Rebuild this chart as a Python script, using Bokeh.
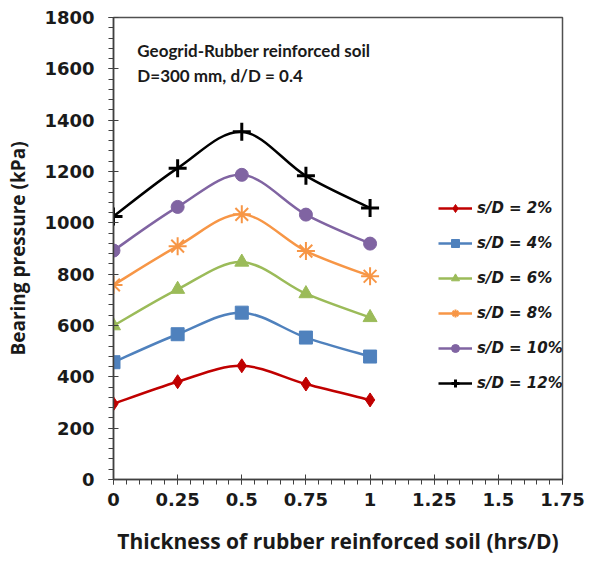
from bokeh.plotting import figure
from bokeh.models import FixedTicker, Legend, LegendItem, Label, ColumnDataSource
from bokeh.embed import file_html
from bokeh.resources import INLINE

x_vals = [0, 0.25, 0.5, 0.75, 1.0]
series_names = ["s/D = 2%", "s/D = 4%", "s/D = 6%", "s/D = 8%", "s/D = 10%", "s/D = 12%"]
sd2 = [295, 381, 443, 372, 310]
sd4 = [457, 566, 650, 553, 479]
sd6 = [599, 741, 847, 724, 631]
sd8 = [758, 909, 1033, 890, 792]
sd10 = [892, 1062, 1187, 1032, 919]
sd12 = [1025, 1213, 1355, 1183, 1058]
series_values = [sd2, sd4, sd6, sd8, sd10, sd12]
colors = ["#C00000", "#4F81BD", "#9BBB59", "#F79646", "#8064A2", "#000000"]
markers = ["diamond", "square", "triangle", "asterisk", "circle", "cross"]
msizes = [14, 13, 14, 18, 13, 18]
x_ticks = [0, 0.25, 0.5, 0.75, 1.0, 1.25, 1.5, 1.75]
x_tick_labels = ["0", "0.25", "0.5", "0.75", "1", "1.25", "1.5", "1.75"]
y_ticks = [0, 200, 400, 600, 800, 1000, 1200, 1400, 1600, 1800]

TICK_FONT = "DejaVu Sans"
LABEL_FONT = "Open Sans"
NOTE_FONT = "Lato"

p = figure(width=595, height=557, output_backend="svg", toolbar_location=None,
           x_range=(0, 1.75), y_range=(0, 1800),
           min_border_left=113, min_border_right=33, min_border_top=17, min_border_bottom=76)
p.grid.visible = False
p.outline_line_color = "#505050"
p.outline_line_width = 1.5

p.xaxis.ticker = FixedTicker(ticks=x_ticks, minor_ticks=[i * 0.05 for i in range(36)])
p.xaxis.major_label_overrides = {t: l for t, l in zip(x_ticks, x_tick_labels)}
p.yaxis.ticker = FixedTicker(ticks=y_ticks, minor_ticks=[i * 40 for i in range(46)])

for ax in (p.xaxis[0], p.yaxis[0]):
    ax.axis_line_color = "#404040"
    ax.axis_line_width = 1.5
    ax.major_tick_line_color = "#404040"
    ax.minor_tick_line_color = "#404040"
    ax.major_tick_in = 5
    ax.major_tick_out = 5
    ax.minor_tick_in = 0
    ax.minor_tick_out = 5
    ax.major_label_text_font = TICK_FONT
    ax.major_label_text_font_style = "bold"
    ax.major_label_text_font_size = "18px"
    ax.major_label_text_color = "#1a1a1a"
    ax.axis_label_text_font = LABEL_FONT
    ax.axis_label_text_font_style = "bold"
    ax.axis_label_text_color = "#1a1a1a"

p.xaxis.axis_label = "Thickness of rubber reinforced soil (hrs/D)"
p.yaxis.axis_label = "Bearing pressure (kPa)"
p.xaxis.axis_label_text_font_size = "21px"
p.yaxis.axis_label_text_font_size = "19px"
p.xaxis.major_label_standoff = 8
p.yaxis.major_label_standoff = 14
p.xaxis.axis_label_standoff = 18
p.yaxis.axis_label_standoff = 10

items = []
for name, ys, c, m, s in zip(series_names, series_values, colors, markers, msizes):
    n = len(ys)
    x0, y0, x1, y1, cx0, cy0, cx1, cy1 = [], [], [], [], [], [], [], []
    for i in range(n - 1):
        im = max(i - 1, 0)
        ip2 = min(i + 2, n - 1)
        x0.append(x_vals[i]); y0.append(ys[i])
        x1.append(x_vals[i + 1]); y1.append(ys[i + 1])
        cx0.append(x_vals[i] + (x_vals[i + 1] - x_vals[im]) / 6)
        cy0.append(ys[i] + (ys[i + 1] - ys[im]) / 6)
        cx1.append(x_vals[i + 1] - (x_vals[ip2] - x_vals[i]) / 6)
        cy1.append(ys[i + 1] - (ys[ip2] - ys[i]) / 6)
    src = ColumnDataSource(dict(x0=x0, y0=y0, x1=x1, y1=y1, cx0=cx0, cy0=cy0, cx1=cx1, cy1=cy1))
    r1 = p.bezier(x0="x0", y0="y0", x1="x1", y1="y1", cx0="cx0", cy0="cy0", cx1="cx1", cy1="cy1",
                  source=src, line_color=c, line_width=2.5)
    lw = 3 if m == "cross" else (2 if m == "asterisk" else 1)
    r2 = p.scatter(x_vals, ys, marker=m, size=s, fill_color=c, line_color=c, line_width=lw)
    items.append(LegendItem(label=name, renderers=[r1, r2]))

legend = Legend(items=items, location=(325, 86), orientation="vertical",
                glyph_width=34, glyph_height=20, label_height=20, spacing=15,
                label_standoff=5, padding=0, margin=0,
                border_line_color=None, background_fill_alpha=0,
                label_text_font=TICK_FONT, label_text_font_style="bold italic",
                label_text_font_size="15px", label_text_color="#1a1a1a")
p.add_layout(legend, "center")

p.add_layout(Label(x=0.093, y=1711, text="Geogrid-Rubber reinforced soil", text_baseline="top",
                   text_font=NOTE_FONT, text_font_style="bold", text_font_size="17px", text_color="#1a1a1a"))
p.add_layout(Label(x=0.093, y=1614, text="D=300 mm, d/D = 0.4", text_baseline="top",
                   text_font=NOTE_FONT, text_font_style="bold", text_font_size="17px", text_color="#1a1a1a"))

open("out.html", "w").write(file_html(p, INLINE))
